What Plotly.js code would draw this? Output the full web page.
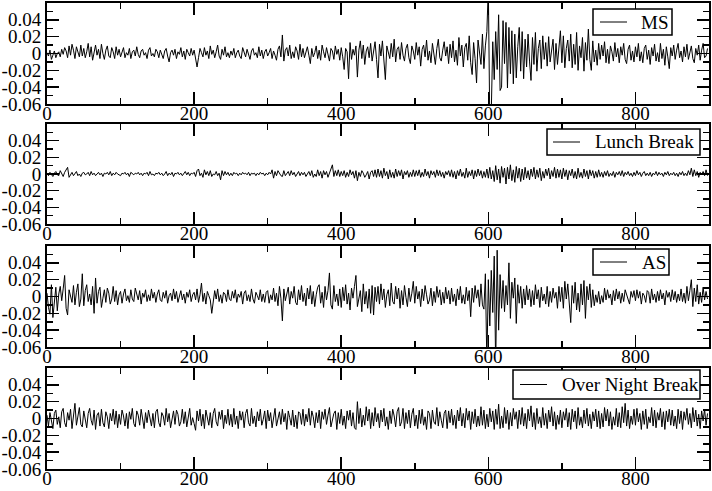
<!DOCTYPE html>
<html>
<head>
<meta charset="utf-8">
<script src="https://cdn.plot.ly/plotly-3.0.1.min.js"></script>
<style>html,body{margin:0;padding:0;background:#fff;}#chart{width:712px;height:491px;}</style>
</head>
<body>
<div id="chart"></div>
<script>
// Sampling step along x (time index units)
const step = 2;
// Series values in thousandths (0.001 units)
const msVals = [
1,-3,4,-7,-2,3,-5,0,2,-4,5,-1,7,3,-5,9,-2,11,4,-6,8,1,-4,10,-3,
6,-5,2,12,-4,8,-8,3,10,-2,5,-6,11,0,-7,4,9,-3,-5,7,2,-6,8,-2,5,
-4,3,7,-5,1,-2,6,-6,2,4,-3,8,-1,-5,3,5,-2,1,-6,4,7,-3,0,-4,5,
2,-5,4,-1,-6,3,6,-3,-10,1,4,-2,5,-6,2,-1,7,-4,3,-7,5,1,-3,6,-2,
4,-8,-16,-5,6,1,-4,7,-2,3,-6,9,-1,4,-5,2,10,-3,-7,5,-2,8,-4,1,-5,
3,-2,6,-5,1,4,-3,-6,7,2,-4,5,-1,-7,3,6,-2,1,-5,8,-3,4,-6,2,5,
-3,1,6,-6,3,-2,-8,5,9,-4,22,-9,4,7,-3,10,-6,2,-5,8,3,-7,11,-4,6,
-5,3,8,-2,-12,6,-4,1,9,-6,4,-8,10,2,-5,7,-3,-9,6,3,-7,9,-1,5,-8,
7,-4,-19,6,2,-30,13,-7,5,-2,9,-28,4,15,-6,10,-13,3,8,-5,12,-9,1,14,-7,
-29,11,-3,15,-8,-31,9,2,-6,12,-4,17,-10,5,8,-7,13,-2,-9,6,11,-5,-12,9,3,
-7,13,-2,8,-15,5,10,-4,16,-8,3,-11,12,0,-13,6,17,-5,-9,4,14,-3,8,-12,11,
-5,15,-10,4,-14,19,-3,10,-16,7,12,-8,21,-11,-25,13,-6,-35,16,3,-13,23,-18,9,26,
80,-85,-70,14,-31,26,-19,46,-44,-40,39,-12,37,-41,31,-24,27,-36,23,-29,8,31,-21,26,-30,
17,-16,23,-9,-32,19,-13,25,-21,6,16,-18,21,-7,13,-15,20,-10,4,17,-19,12,-13,9,27,
-11,21,-17,6,16,-9,23,-17,11,-13,25,-20,9,-5,19,-21,13,-8,29,-7,-20,15,-10,4,-14,
12,-7,10,-3,14,-11,5,-12,9,2,-9,13,-4,6,-11,8,-2,12,-7,-12,5,10,-8,3,-10,
8,-4,12,-9,2,-11,6,10,-7,4,-13,7,-3,11,-9,1,-10,12,-6,5,-14,8,-4,-18,7,
-3,10,-7,4,12,-5,3,-10,8,-4,11,-7,2,9,-6,-11,6,-2,10,-8,4,12,-5,-3,6
];
const lunchVals = [
1,-2,2,0,-3,1,3,-1,-2,4,1,-3,2,6,8,-4,-1,2,-2,1,3,-2,0,-3,1,
2,-1,0,2,-2,3,-1,1,-2,0,2,-1,1,-3,1,0,2,-1,3,-2,1,-1,2,0,-1,
-2,1,0,2,-1,1,-3,2,0,-1,1,0,2,-1,1,-2,1,0,2,-2,3,-1,0,-2,1,
0,2,-1,1,-2,0,3,-2,1,-1,2,-3,1,0,2,-1,1,-2,0,3,-1,2,-2,1,0,
2,-3,4,6,-2,1,-4,5,-1,3,-2,4,-3,0,-1,3,-2,1,-7,4,-2,3,-1,2,-2,
1,-2,2,0,1,-2,1,-1,2,0,1,-1,2,-2,1,0,1,-2,1,-1,2,0,1,-2,1,
-1,2,0,5,-5,3,-2,4,1,-2,-3,4,-2,1,3,-2,4,-1,2,-3,1,3,-2,2,-1,
2,-3,1,3,-2,4,-4,0,-3,5,-2,3,-5,4,-1,3,-4,2,6,11,-3,4,-2,5,-3,
3,-2,4,-4,2,-3,5,-1,3,-5,4,-8,2,-3,4,1,-4,-1,3,-6,2,4,-3,5,-4,
6,-3,4,-5,7,-2,3,-6,5,-4,2,-5,6,-3,4,-2,5,-6,3,-1,4,-4,2,-3,5,
-3,4,-2,5,-4,2,-3,6,-2,3,-5,4,-1,3,-4,5,-2,4,-3,2,-5,3,-1,4,-3,
5,-4,3,-6,4,-2,6,-3,2,-5,7,-4,3,-2,5,-6,4,-3,6,-2,4,-5,3,-4,6,
-5,8,-6,4,-9,10,-7,6,-11,9,-4,7,-12,8,-6,11,-8,5,-10,9,-5,7,-9,6,-7,
8,-5,4,-7,6,-3,8,-6,5,-4,7,-8,3,-5,6,-2,7,-6,4,-3,8,-5,6,-4,5,
-6,7,-3,5,-7,4,-2,6,-5,3,-6,7,-4,2,-5,6,-3,4,-6,5,-2,4,-5,3,-4,
5,-3,2,-4,3,-2,4,-3,1,-2,3,-4,2,-1,3,-2,4,-3,2,-1,3,-2,1,-3,2,
-2,4,-1,2,-3,1,3,-2,1,-2,2,-3,1,-1,3,-2,2,-1,1,-3,2,-1,3,-2,1,
-1,2,-2,1,-3,2,-1,3,-2,1,-2,4,-1,7,-3,5,-2,3,-4,2,-1,3,-2,5,-2
];
const asVals = [
4,-13,-21,14,-25,-9,11,-17,3,12,-5,9,25,-14,-22,8,1,-7,13,-10,5,15,-12,-3,27,
-11,7,14,-6,3,-10,12,-20,22,-8,6,11,-13,-2,8,-7,10,4,-9,-3,12,-6,7,-10,2,
6,-8,3,9,-5,1,-7,8,-3,-6,10,2,-4,7,-9,4,-1,8,-6,2,-5,9,-2,5,-7,
3,8,-4,-6,5,-2,7,-8,1,4,-5,9,-3,6,-7,0,7,-4,3,-8,5,-1,8,-6,2,
5,-4,9,-7,2,16,-6,4,-9,6,1,-4,-20,-5,7,-3,9,-6,2,-8,5,3,-6,8,-3,
-5,6,-2,8,-7,3,-1,6,-9,4,7,-5,2,-6,9,-3,-8,5,1,-4,8,-6,3,-7,5,
7,-8,2,-4,10,-6,4,-11,12,-2,-29,9,-5,3,11,-9,6,-2,12,-7,-10,8,-4,13,-6,
4,-11,10,-3,13,-9,6,-12,2,11,14,-8,5,-13,12,-4,7,28,-10,-15,13,-6,3,-11,9,
-13,11,-5,14,-9,4,-16,10,-2,12,25,-12,-4,7,-18,15,-9,6,-14,9,-20,13,-22,11,-6,
12,-9,15,-4,9,-13,2,8,-11,16,-6,-9,12,-3,10,-14,7,-10,13,-1,-12,10,-6,4,18,
-8,12,-3,6,-12,9,-5,13,2,-9,-4,10,-11,6,-7,12,-1,8,-10,5,-8,11,-3,7,-9,
10,-6,3,-11,9,-4,12,-8,2,-9,11,-5,7,-24,10,-7,13,-2,8,-12,15,-10,-15,27,-80,
20,-35,31,-19,48,-85,55,-40,26,-14,19,-18,13,-10,40,-26,17,-2,22,-32,14,-8,12,-14,9,
-10,13,-4,9,-12,7,-10,14,-3,8,-13,11,-5,3,-9,12,-12,6,-7,10,-2,5,-14,12,-6,
11,-14,18,-3,15,-11,-31,13,-8,17,-16,4,-18,15,-10,19,-26,12,-4,15,-13,8,-11,2,-7,
6,-9,1,-7,10,-4,8,-2,3,-10,7,-5,9,-3,6,-8,4,-6,8,2,-5,-9,6,-1,7,
-5,8,-2,6,-9,4,1,-7,7,5,-8,9,-4,3,-7,6,-5,8,-3,4,-10,7,-1,5,-6,
8,-4,6,-7,3,-5,9,-6,4,-8,12,-5,7,20,-12,10,-6,14,-9,5,-7,11,-4,6,-3
];
const nightVals = [
4,-9,7,-3,-12,6,10,-7,2,-11,8,12,-5,-10,7,-2,11,-12,5,18,-8,3,13,-7,-10,
9,-4,-11,6,12,-2,-8,10,-13,4,7,-9,11,-5,-10,8,2,-12,6,-3,11,-7,9,-11,5,
-7,10,3,-9,6,-12,8,-1,12,-6,-10,9,4,-8,11,-3,-12,7,-5,10,2,-9,6,-11,8,
11,-5,-10,7,3,-8,12,-4,6,-11,-2,9,-7,10,5,-9,-4,11,-6,8,-10,3,12,-8,1,
-6,-14,9,-3,11,-9,5,-12,10,2,-8,7,-11,6,12,-4,-9,8,-1,10,-12,4,-6,11,-8,
5,-10,12,-7,3,-12,9,-2,8,-11,6,11,-5,-9,12,-6,3,-10,8,-3,11,-8,-1,9,-12,
10,-3,7,-11,4,12,-9,-2,8,-7,11,-4,6,-13,9,1,-8,10,-10,4,-12,8,6,-7,11,
-9,5,-4,12,-8,9,2,-11,7,-5,10,-12,8,-1,11,-7,4,13,-10,-3,6,9,-13,7,-6,
11,-8,3,-12,9,-2,10,-9,7,-11,-13,20,-6,12,-10,4,-8,14,-3,11,-12,7,-9,13,-4,
6,-11,10,-4,12,-9,2,-13,9,-6,11,3,-10,8,13,-9,-4,12,-12,7,-6,10,-11,5,12,
-9,4,-12,10,-6,11,-8,2,-13,9,6,-12,10,-4,-7,13,-9,8,-2,-11,6,10,-12,9,-5,
11,-8,4,-12,10,-3,13,-9,6,-11,12,-2,9,-13,8,-6,11,-10,3,-9,14,-8,10,-12,5,
-10,12,-4,9,-13,11,-7,17,-12,3,-11,13,-6,10,-13,7,-9,12,-1,8,-12,10,-7,13,-9,
6,-12,11,-3,15,-10,7,-13,12,-6,2,-11,13,-8,6,-12,10,-4,14,-9,8,-13,4,-7,10,
-11,8,-2,12,-10,7,-13,11,-4,9,-12,13,-8,2,-11,10,-6,12,-9,5,-12,8,-3,11,-10,
9,-12,6,-10,13,-3,11,-9,8,-13,2,-8,12,-10,7,-11,14,-5,18,-9,10,-12,3,-7,11,
-8,12,-4,6,-13,9,-7,11,-12,2,-5,13,-9,10,-11,7,-2,12,-10,8,-13,9,-4,11,-8,
10,-9,3,-12,11,-6,9,-13,8,-2,12,-7,6,-11,13,-4,10,-9,5,-12,9,-3,11,-8,6
];
const seriesNames = ['MS', 'Lunch Break', 'AS', 'Over Night Break'];
const seriesVals = [msVals, lunchVals, asVals, nightVals];
const xTickVals = [0, 200, 400, 600, 800];
const xTickText = ['0', '200', '400', '600', '800'];
const yTickVals = [-0.06, -0.04, -0.02, 0, 0.02, 0.04];
const yTickText = ['-0.06', '-0.04', '-0.02', '0', '0.02', '0.04'];

// ---- layout geometry (pixels) ----
const W = 712, H = 491, ML = 47, MR = 3;
const PW = W - ML - MR;
const px = v => (v - ML) / PW;   // pixel x -> paper x
const py = v => 1 - v / H;       // pixel y -> paper y
const panels = [[3, 104], [124, 224], [246, 347], [368, 469]];
const legendBoxes = [
  {x0: 593, x1: 672, y0: 9, y1: 35, l0: 600, l1: 627, tx: 639},
  {x0: 547, x1: 700, y0: 129, y1: 155, l0: 553, l1: 580, tx: 593},
  {x0: 593, x1: 669, y0: 249, y1: 275, l0: 600, l1: 627, tx: 640},
  {x0: 513, x1: 700, y0: 370, y1: 399, l0: 520, l1: 547, tx: 560}
];
const font = 'Liberation Serif, Times New Roman, serif';

const traces = [];
const shapes = [];
const annotations = [];
const layout = {
  width: W, height: H,
  margin: {l: ML, r: MR, t: 0, b: 0},
  paper_bgcolor: '#fff', plot_bgcolor: '#fff',
  font: {family: font, size: 19, color: '#000'},
  showlegend: false
};
seriesVals.forEach((vals, i) => {
  const n = i === 0 ? '' : String(i + 1);
  traces.push({
    type: 'scatter', mode: 'lines',
    x: vals.map((_, k) => k * step),
    y: vals.map(v => v / 1000),
    name: seriesNames[i],
    xaxis: 'x' + n, yaxis: 'y' + n,
    line: {color: '#000', width: 1}
  });
  const top = py(panels[i][0]), bot = py(panels[i][1]);
  layout['xaxis' + n] = {
    domain: [0, 1], anchor: 'y' + n, range: [0, 900],
    tickmode: 'array', tickvals: xTickVals, ticktext: xTickText,
    ticks: 'inside', ticklen: 12, tickwidth: 1.5, tickcolor: '#000',
    ticklabelstandoff: -9,
    minor: {dtick: 100, tick0: 0, ticks: 'inside', ticklen: 6, tickwidth: 1.5, tickcolor: '#000'},
    showline: true, linecolor: '#000', linewidth: 2, mirror: 'allticks',
    showgrid: false, zeroline: false,
    tickfont: {family: font, size: 19, color: '#000'}
  };
  layout['yaxis' + n] = {
    domain: [bot, top], anchor: 'x' + n, range: [-0.06, 0.06],
    tickmode: 'array', tickvals: yTickVals, ticktext: yTickText,
    ticks: 'inside', ticklen: 12, tickwidth: 1.5, tickcolor: '#000',
    minor: {dtick: 0.01, tick0: 0, ticks: 'inside', ticklen: 6, tickwidth: 1.5, tickcolor: '#000'},
    showline: true, linecolor: '#000', linewidth: 2, mirror: 'allticks',
    showgrid: false, zeroline: false,
    tickfont: {family: font, size: 19, color: '#000'}
  };
  // legend box drawn Grace-style: framed box, sample line and label
  const b = legendBoxes[i];
  const cy = (b.y0 + b.y1) / 2;
  shapes.push({type: 'rect', xref: 'paper', yref: 'paper', layer: 'above',
    x0: px(b.x0), x1: px(b.x1), y0: py(b.y1), y1: py(b.y0),
    line: {color: '#000', width: 1.5}, fillcolor: '#fff'});
  shapes.push({type: 'line', xref: 'paper', yref: 'paper', layer: 'above',
    x0: px(b.l0), x1: px(b.l1), y0: py(cy), y1: py(cy),
    line: {color: '#000', width: 1}});
  annotations.push({xref: 'paper', yref: 'paper', x: px(b.tx), y: py(cy),
    xanchor: 'left', yanchor: 'middle', showarrow: false,
    text: seriesNames[i], font: {family: font, size: 19, color: '#000'}});
});
layout.shapes = shapes;
layout.annotations = annotations;
Plotly.newPlot('chart', traces, layout, {displayModeBar: false, staticPlot: true});
</script>
</body>
</html>
